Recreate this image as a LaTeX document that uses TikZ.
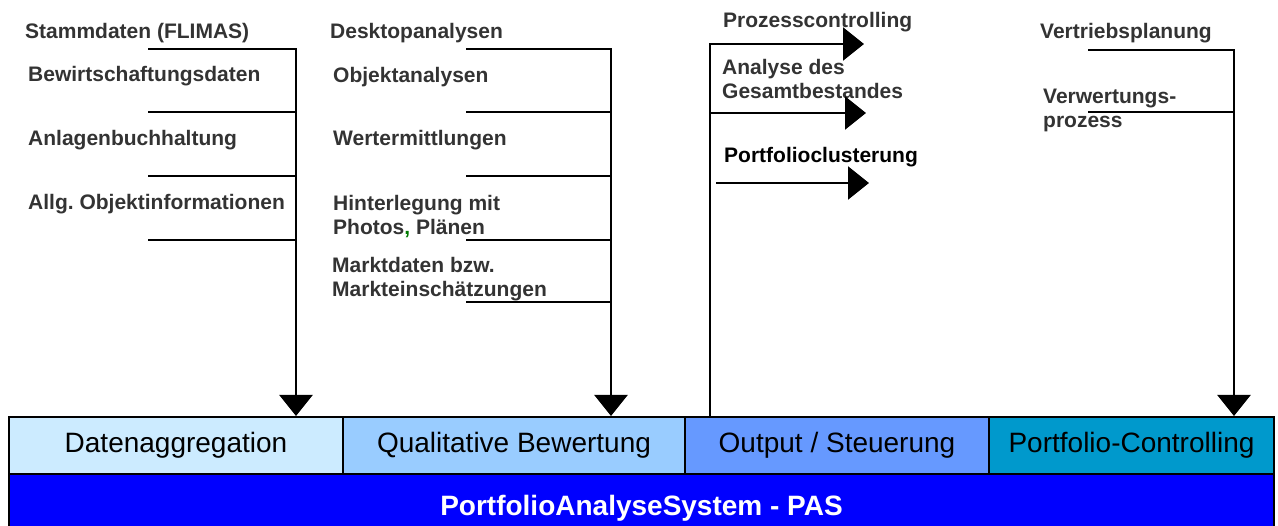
\documentclass[tikz,border=0pt]{standalone}
\usepackage{fontspec}
\setmainfont{Liberation Sans}
\usetikzlibrary{arrows.meta}
\frenchspacing
\definecolor{txtgray}{HTML}{333333}
\definecolor{cone}{HTML}{CCEBFF}
\definecolor{ctwo}{HTML}{99CCFF}
\definecolor{cthree}{HTML}{6699FF}
\definecolor{cfour}{HTML}{0099CC}
\definecolor{pasblue}{HTML}{0000FF}
\definecolor{commagreen}{HTML}{007A00}
\begin{document}
\begin{tikzpicture}[x=1pt,y=-1pt,
  lbl/.style={anchor=base west,inner sep=0pt,font=\fontsize{21}{24.5}\selectfont\bfseries\frenchspacing,text=txtgray,align=left},
  ln/.style={line width=2.5pt,line join=miter},
  arr/.style={ln,-{Triangle[width=33pt,length=21pt]}},
  box/.style={draw=black,line width=2pt,minimum height=57pt,inner sep=0pt,font=\fontsize{28}{30}\selectfont,text=black}]
\useasboundingbox (0,0) rectangle (1278,526);

% bottom bar
\node[draw=black,line width=2pt,fill=pasblue,minimum width=1265pt,minimum height=56pt,inner sep=0pt] (pas) at (641.5,502) {};
\node[anchor=base,inner sep=0pt,font=\fontsize{28}{30}\selectfont\bfseries,text=white] (pastext) at (641.5,516) {PortfolioAnalyseSystem - PAS};

% boxes
\node[box,fill=cone,minimum width=334pt] (b1) at (176,445.5) {Datenaggregation};
\node[box,fill=ctwo,minimum width=342pt] (b2) at (514,445.5) {Qualitative Bewertung};
\node[box,fill=cthree,minimum width=304pt] (b3) at (837,445.5) {Output / Steuerung};
\node[box,fill=cfour,minimum width=285pt] (b4) at (1131.5,445.5) {Portfolio-Controlling};

% column 1
\node[lbl] (t11) at (25,39) {Stammdaten (FLIMAS)};
\node[lbl] (t12) at (28,82) {Bewirtschaftungsdaten};
\node[lbl] (t13) at (28,146) {Anlagenbuchhaltung};
\node[lbl] (t14) at (28,210) {Allg.\ Objektinformationen};
\coordinate (v1) at (296,49);
\coordinate (h11) at (148,49);
\coordinate (h12) at (148,112);
\coordinate (h13) at (148,176);
\coordinate (h14) at (148,240);
\draw[arr] (h11) -- (v1) -- (v1 |- b1.north);
\foreach \h in {h12,h13,h14} \draw[ln] (\h) -- (\h -| v1);

% column 2
\node[lbl] (t21) at (330,39) {Desktopanalysen};
\node[lbl] (t22) at (333,83) {Objektanalysen};
\node[lbl] (t23) at (333,146) {Wertermittlungen};
\node[lbl] (t24) at (333,235) {Hinterlegung mit\\Photos{\color{commagreen},} Plänen};
\node[lbl] (t25) at (332,297) {Marktdaten bzw.\\Markteinschätzungen};
\coordinate (v2) at (611,49);
\coordinate (h21) at (466,49);
\coordinate (h22) at (466,112);
\coordinate (h23) at (466,176);
\coordinate (h24) at (466,240);
\coordinate (h25) at (466,302);
\draw[arr] (h21) -- (v2) -- (v2 |- b2.north);
\foreach \h in {h22,h23,h24,h25} \draw[ln] (\h) -- (\h -| v2);

% column 3
\node[lbl] (t31) at (723,28) {Prozesscontrolling};
\node[lbl] (t32) at (722,99) {Analyse des\\Gesamtbestandes};
\node[lbl,text=black] (t33) at (724,163) {Portfolioclusterung};
\coordinate (o1) at (710,44);
\coordinate (o1e) at (864,44);
\coordinate (o2) at (710,113);
\coordinate (o2e) at (866,113);
\coordinate (o3) at (716,183);
\coordinate (o3e) at (869,183);
\draw[arr] (o1 |- b3.north) -- (o1) -- (o1e);
\draw[arr] (o2) -- (o2e);
\draw[arr] (o3) -- (o3e);

% column 4
\node[lbl] (t41) at (1040,39) {Vertriebsplanung};
\node[lbl] (t42) at (1043,128) {Verwertungs-\\prozess};
\coordinate (v4) at (1234,50);
\coordinate (h41) at (1088,50);
\coordinate (h42) at (1088,112);
\draw[arr] (h41) -- (v4) -- (v4 |- b4.north);
\draw[ln] (h42) -- (h42 -| v4);
\end{tikzpicture}
\end{document}
